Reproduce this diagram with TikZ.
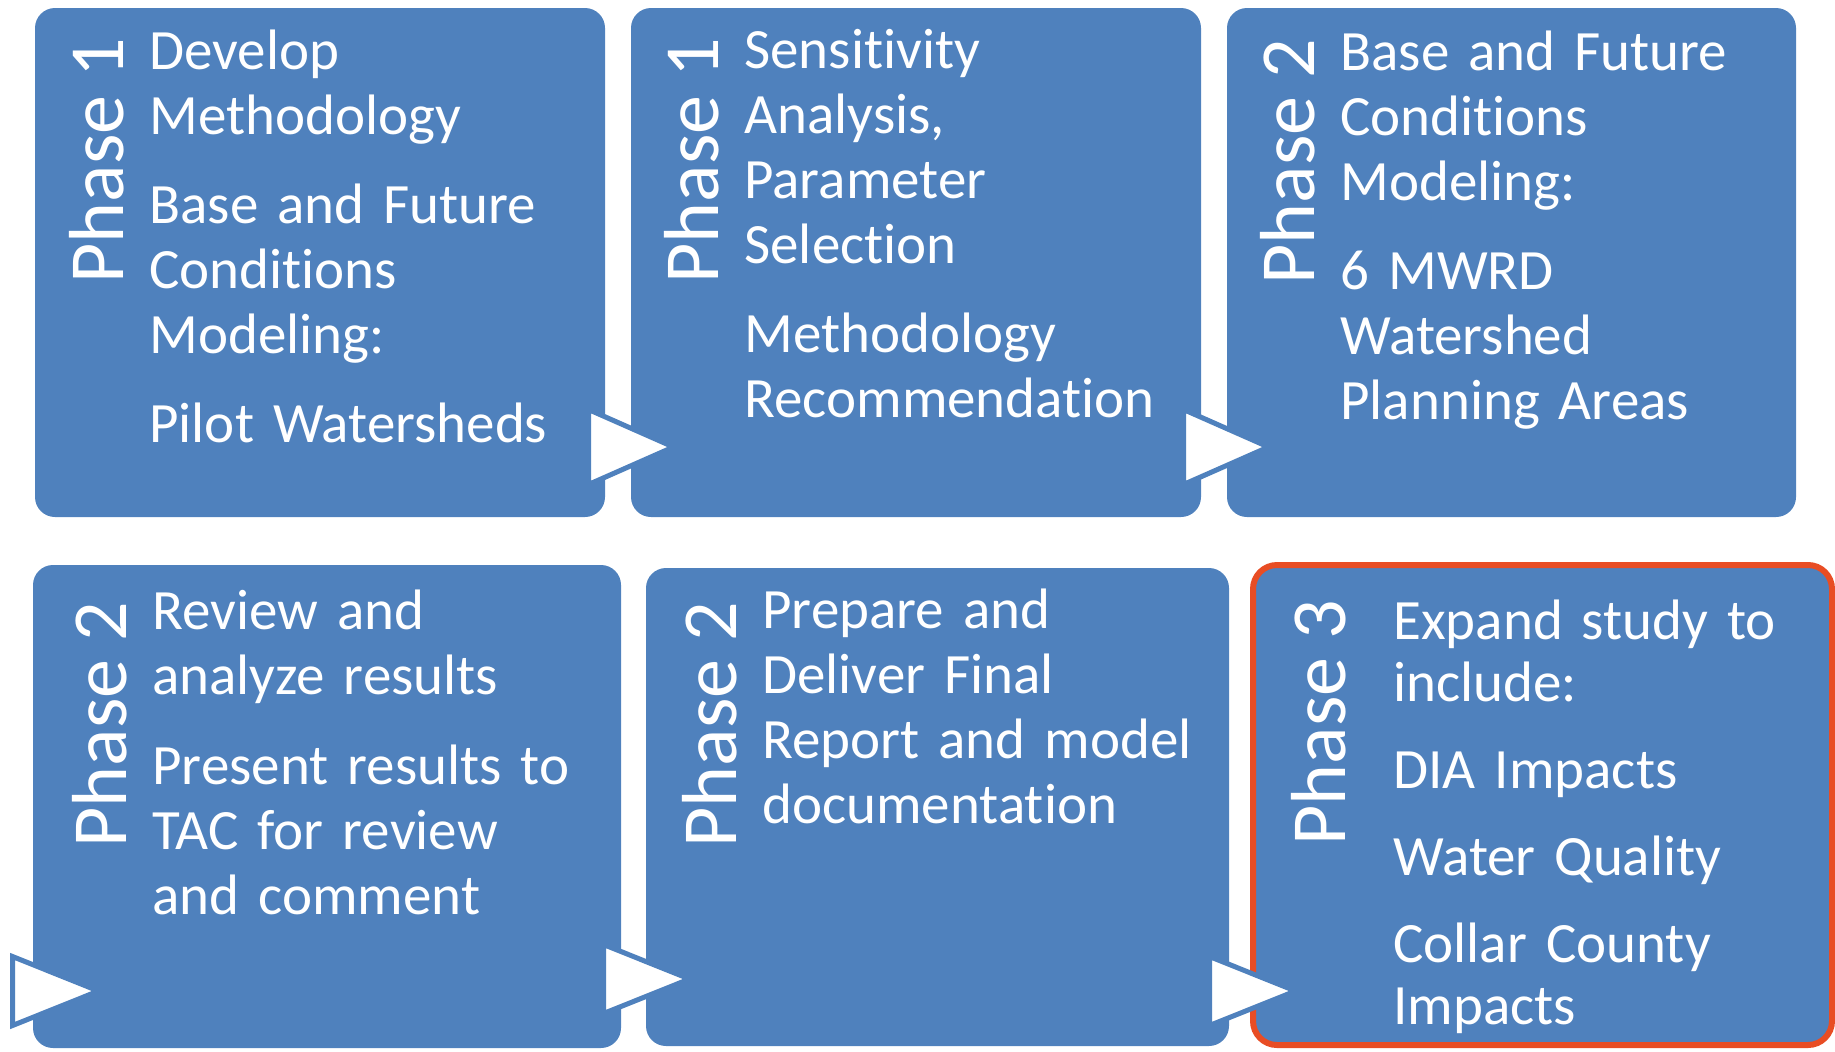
\documentclass[tikz,border=0pt]{standalone}
\usepackage{fontspec}
\setmainfont{Carlito}[Ligatures=NoCommon]
\usetikzlibrary{positioning, shapes.geometric, calc}
\definecolor{stageblue}{RGB}{79,129,189}
\definecolor{stagered}{RGB}{232,77,36}

\begin{document}
\begin{tikzpicture}[
                x=0.5pt, y=-0.5pt,
                stage/.style={rectangle, rounded corners=10pt, fill=stageblue, inner sep=0pt, outer sep=0pt, anchor=north west},
                focus/.style={stage, draw=stagered, line width=3pt, rounded corners=12pt},
                phase/.style={rotate=90, anchor=base east, inner sep=0pt, text=white, font=\fontsize{39}{44}\selectfont},
                task/.style={anchor=base west, inner sep=0pt, text=white, align=left, text width=245pt, font=\fontsize{28.5}{32.5}\selectfont},
                pointer/.style={isosceles triangle, isosceles triangle stretches, anchor=west, fill=white, draw=stageblue, line width=2.5pt, inner sep=0pt, outer sep=0pt, minimum width=37.5pt, minimum height=42.5pt},
                lowpointer/.style={pointer, minimum width=34.5pt, minimum height=43pt},
            ]
                \useasboundingbox (0,0) rectangle (1835,1051);

                % Draw the stage boxes
                \foreach \name/\x/\y/\w/\h in {s1/35/8/285/254.5, s2/631/8/285/254.5, s3/1227/8/284.5/254.5, s4/33/565/294/241.5, s5/646/568/291.5/239}
                    \node[stage, minimum width=\w pt, minimum height=\h pt] (\name) at (\x,\y) {};

                % The last stage is outlined
                \node[focus, minimum width=289.5pt, minimum height=240pt] (s6) at (1253,565) {};

                % Draw the pointers between the stages
                \node[lowpointer] (a0) at ($(s4.south west)+(-20.5,-57)$) {};
                \node[pointer] (a12) at ($(s1.south east)+(-16.5,-70)$) {};
                \node[pointer] (a23) at ($(s2.south east)+(-17.5,-70)$) {};
                \node[lowpointer] (a45) at ($(s4.south east)+(-17.5,-69)$) {};
                \node[lowpointer] (a56) at ($(s5.south east)+(-19.5,-55)$) {};

                % Draw the phase labels
                \foreach \name/\x/\y/\n in {s1/123/38/1, s2/718/38/1, s3/1314/39/2, s4/126/602/2, s5/736/602/2, s6/1345/600/3}
                    \node[phase] (\name-ph) at (\x,\y) {Phase \n};

                % Draw the stage texts
                \node[task] (s1-txt) at (149,69) {Develop\\ Methodology\\[12pt] Base and Future\\ Conditions\\ Modeling:\\[12pt] Pilot Watersheds};
                \node[task] (s2-txt) at (744,68) {Sensitivity\\ Analysis,\\ Parameter\\ Selection\\[12pt] Methodology\\ Recommendation};
                \node[task] (s3-txt) at (1340,70) {Base and Future\\ Conditions\\ Modeling:\\[12pt] 6 MWRD\\ Watershed\\ Planning Areas};
                \node[task] (s4-txt) at (152,629) {Review and\\ analyze results\\[12.5pt] Present results to\\ TAC for review\\ and comment};
                \node[task] (s5-txt) at (762,628) {Prepare and\\ Deliver Final\\ Report and model\\ documentation};
                \node[task, font=\fontsize{28.5}{31}\selectfont] (s6-txt) at (1393,639) {Expand study to\\ include:\\[12.5pt] DIA Impacts\\[12.5pt] Water Quality\\[12.5pt] Collar County\\ Impacts};
            \end{tikzpicture}
\end{document}
